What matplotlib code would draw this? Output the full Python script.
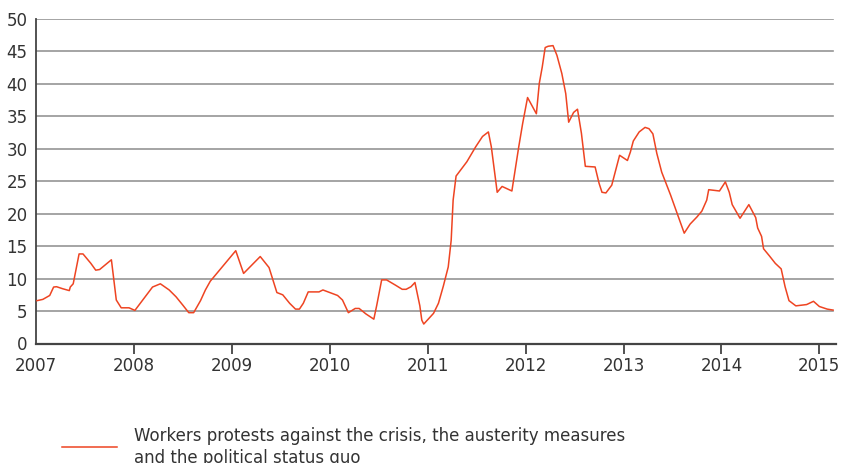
import matplotlib
matplotlib.use('Agg')
import matplotlib.pyplot as plt
from matplotlib.lines import Line2D

plt.rcParams['font.family'] = ['Liberation Sans Narrow', 'DejaVu Sans']

# decimal year and protest value
years = [2007.01, 2007.07, 2007.14, 2007.18, 2007.21, 2007.27, 2007.34, 2007.35, 2007.38,
         2007.44, 2007.48, 2007.56, 2007.61, 2007.65, 2007.77, 2007.82, 2007.87, 2007.95,
         2008.01, 2008.10, 2008.19, 2008.27, 2008.36, 2008.43, 2008.50, 2008.56, 2008.61,
         2008.68, 2008.73, 2008.78, 2009.04, 2009.12, 2009.29, 2009.38, 2009.46, 2009.52,
         2009.59, 2009.65, 2009.69, 2009.73, 2009.78, 2009.89, 2009.93, 2010.00, 2010.08,
         2010.13, 2010.19, 2010.26, 2010.30, 2010.37, 2010.45, 2010.48, 2010.53, 2010.58,
         2010.67, 2010.74, 2010.78, 2010.83, 2010.87, 2010.92, 2010.94, 2010.96, 2011.06,
         2011.11, 2011.16, 2011.21, 2011.24, 2011.26, 2011.29, 2011.34, 2011.40, 2011.49,
         2011.56, 2011.62, 2011.65, 2011.71, 2011.76, 2011.86, 2011.93, 2011.97, 2012.02,
         2012.11, 2012.14, 2012.17, 2012.20, 2012.23, 2012.28, 2012.32, 2012.37, 2012.41,
         2012.44, 2012.49, 2012.53, 2012.57, 2012.61, 2012.71, 2012.75, 2012.78, 2012.82,
         2012.88, 2012.92, 2012.96, 2013.04, 2013.07, 2013.10, 2013.16, 2013.22, 2013.26,
         2013.30, 2013.34, 2013.39, 2013.48, 2013.56, 2013.62, 2013.68, 2013.75, 2013.80,
         2013.85, 2013.87, 2013.98, 2014.04, 2014.08, 2014.11, 2014.19, 2014.28, 2014.35,
         2014.37, 2014.41, 2014.43, 2014.49, 2014.55, 2014.61, 2014.65, 2014.69, 2014.76,
         2014.87, 2014.94, 2015.00, 2015.08, 2015.14]
values = [6.6, 6.8, 7.4, 8.7, 8.75, 8.45, 8.15, 8.7, 9.2,
          13.8, 13.8, 12.35, 11.3, 11.4, 12.9, 6.7, 5.5, 5.5,
          5.1, 6.9, 8.7, 9.2, 8.25, 7.2, 5.9, 4.75, 4.75,
          6.6, 8.25, 9.6, 14.3, 10.8, 13.4, 11.7, 7.85, 7.5,
          6.2, 5.3, 5.3, 6.2, 7.95, 7.95, 8.25, 7.85, 7.4,
          6.7, 4.75, 5.4, 5.4, 4.55, 3.75, 5.9, 9.8, 9.8,
          9.0, 8.35, 8.35, 8.75, 9.4, 5.8, 3.6, 3.0, 4.65,
          6.2, 8.85, 11.8, 15.9, 22.1, 25.8, 26.8, 28.0, 30.3,
          31.9, 32.6, 30.3, 23.3, 24.2, 23.5, 30.3, 33.9, 37.9,
          35.4, 40.1, 42.6, 45.6, 45.8, 45.9, 44.4, 41.6, 38.5,
          34.1, 35.6, 36.1, 32.4, 27.3, 27.2, 24.7, 23.3, 23.2,
          24.4, 26.7, 29.0, 28.2, 29.5, 31.2, 32.6, 33.3, 33.1,
          32.3, 29.3, 26.4, 22.9, 19.5, 17.0, 18.4, 19.5, 20.4,
          22.1, 23.7, 23.5, 24.9, 23.3, 21.4, 19.3, 21.4, 19.4,
          17.8, 16.5, 14.6, 13.5, 12.35, 11.5, 8.75, 6.6, 5.8,
          6.0, 6.5, 5.7, 5.3, 5.15]

year_ticks = list(range(2007, 2016))
y_ticks = list(range(0, 55, 5))
label = 'Workers protests against the crisis, the austerity measures\nand the political status quo'

LINE_RED = '#EE4422'
GRID = '#959595'
TEXT = '#333333'

fig = plt.figure(figsize=(8.52, 4.63), dpi=100)
ax = fig.add_axes([36 / 852, 1 - 343.5 / 463, 800 / 852, 324.5 / 463])

ax.plot(years, values, color=LINE_RED, lw=1.1, zorder=3)

ax.set_xlim(2007, 2015.17)
ax.set_ylim(0, 50)
ax.set_yticks(y_ticks)
ax.set_xticks(year_ticks)
ax.set_xticklabels([str(y) for y in year_ticks])

for y in y_ticks[1:]:
    ax.axhline(y, xmin=0, xmax=797 / 800, color=GRID, lw=1.2, zorder=1)

for s in ['top', 'right']:
    ax.spines[s].set_visible(False)
ax.spines['left'].set_color('#444444')
ax.spines['left'].set_linewidth(1.3)
ax.spines['bottom'].set_color('#444444')
ax.spines['bottom'].set_linewidth(1.6)

ax.tick_params(axis='y', length=0, pad=6, labelsize=12, labelcolor=TEXT)
ax.tick_params(axis='x', direction='out', length=7, width=1.2, color='#333333',
               pad=3, labelsize=12, labelcolor=TEXT)
# no tick mark at the 2007 corner
ax.xaxis.get_major_ticks()[0].tick1line.set_visible(False)

# legend below the chart
fig.add_artist(Line2D([62 / 852, 117 / 852], [1 - 447 / 463, 1 - 447 / 463],
                      color=LINE_RED, lw=1.1))
fig.text(134 / 852, 1 - 447 / 463, label, ha='left', va='center',
         fontsize=12, color=TEXT, linespacing=1.35)

plt.savefig('out.png', dpi=100, facecolor='white')
plt.close()
